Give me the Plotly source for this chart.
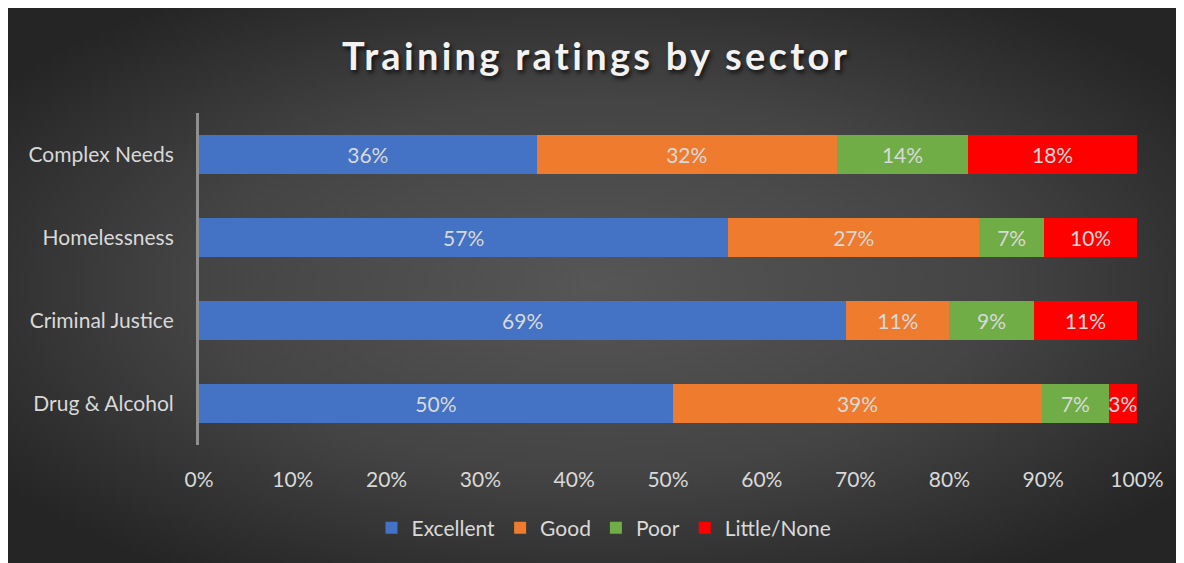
import base64
import plotly.graph_objects as go

# ---- data ----
sectors = ["Complex Needs", "Homelessness", "Criminal Justice", "Drug & Alcohol"]
excellent = [36, 57, 69, 50]
good = [32, 27, 11, 39]
poor = [14, 7, 9, 7]
little_none = [18, 10, 11, 3]
series_names = ["Excellent", "Good", "Poor", "Little/None"]
series_colors = ["#4472C4", "#EF7B2E", "#70AD47", "#FF0000"]
x_ticks = [0, 10, 20, 30, 40, 50, 60, 70, 80, 90, 100]

W, H = 1176, 555
ML, MR, MT, MB = 191, 47, 105, 118
PW, PH = W - ML - MR, H - MT - MB

FONT = "Lato"
LABEL = "#D9D9D9"

fig = go.Figure()
for name, vals, col in zip(series_names, [excellent, good, poor, little_none], series_colors):
    fig.add_trace(go.Bar(
        name=name, y=sectors, x=vals, orientation="h",
        marker=dict(color=col, line=dict(width=0)),
        text=vals, texttemplate="%{text}%", textposition="inside",
        insidetextanchor="middle", constraintext="none", textangle=0,
        textfont=dict(family=FONT, size=21, color=LABEL),
        hoverinfo="skip",
    ))

svg = (
    f'<svg xmlns="http://www.w3.org/2000/svg" width="{W}" height="{H}" '
    f'viewBox="0 0 {W} {H}" preserveAspectRatio="none">'
    '<defs><radialGradient id="g" cx="50%" cy="50%" r="62%">'
    '<stop offset="0" stop-color="#565656"/>'
    '<stop offset="0.55" stop-color="#444444"/>'
    '<stop offset="1" stop-color="#252525"/>'
    '</radialGradient></defs>'
    '<rect width="100%" height="100%" fill="url(#g)"/></svg>'
)
src = "data:image/svg+xml;base64," + base64.b64encode(svg.encode()).decode()

fig.update_layout(
    width=W, height=H,
    margin=dict(l=ML, r=MR, t=MT, b=MB, autoexpand=False),
    paper_bgcolor="#3a3a3a", plot_bgcolor="rgba(0,0,0,0)",
    barmode="stack", barnorm="percent", bargap=0.52,
    uniformtext=dict(minsize=21, mode="show"),
    font=dict(family=FONT, size=21, color=LABEL),
    title=dict(
        text='<span style="letter-spacing:3.3px"><b>Training ratings by sector</b></span>',
        x=0.5, xanchor="center", y=1 - 49 / H, yanchor="middle", yref="container",
        font=dict(family=FONT, size=38, color="#F2F2F2", shadow="2px 3px 4px rgba(0,0,0,0.7)"),
    ),
    xaxis=dict(
        range=[0, 100], tickvals=x_ticks, ticktext=[f"{t}%" for t in x_ticks],
        showgrid=False, zeroline=False, showline=False,
        ticks="outside", ticklen=16, tickcolor="rgba(0,0,0,0)",
        tickfont=dict(family=FONT, size=21, color=LABEL),
        fixedrange=True,
    ),
    yaxis=dict(
        autorange="reversed", showgrid=False, zeroline=False,
        showline=True, linecolor="#8F8F8F", linewidth=3,
        ticks="outside", ticklen=18, tickcolor="rgba(0,0,0,0)",
        tickfont=dict(family=FONT, size=21, color=LABEL),
        fixedrange=True,
    ),
    legend=dict(
        orientation="h", x=0.5 + (604 - 8 - ML - PW / 2) / PW, xanchor="center",
        y=-(520 - MT - PH) / PH, yanchor="middle",
        font=dict(family=FONT, size=21, color=LABEL),
        bgcolor="rgba(0,0,0,0)", itemclick=False, itemdoubleclick=False,
        traceorder="normal",
    ),
    images=[dict(
        source=src, xref="paper", yref="paper",
        x=-ML / PW, y=1 + MT / PH, sizex=W / PW, sizey=H / PH,
        xanchor="left", yanchor="top", sizing="stretch", layer="below",
    )],
    showlegend=True,
)

fig.write_html("out.html", config={"displayModeBar": False})
